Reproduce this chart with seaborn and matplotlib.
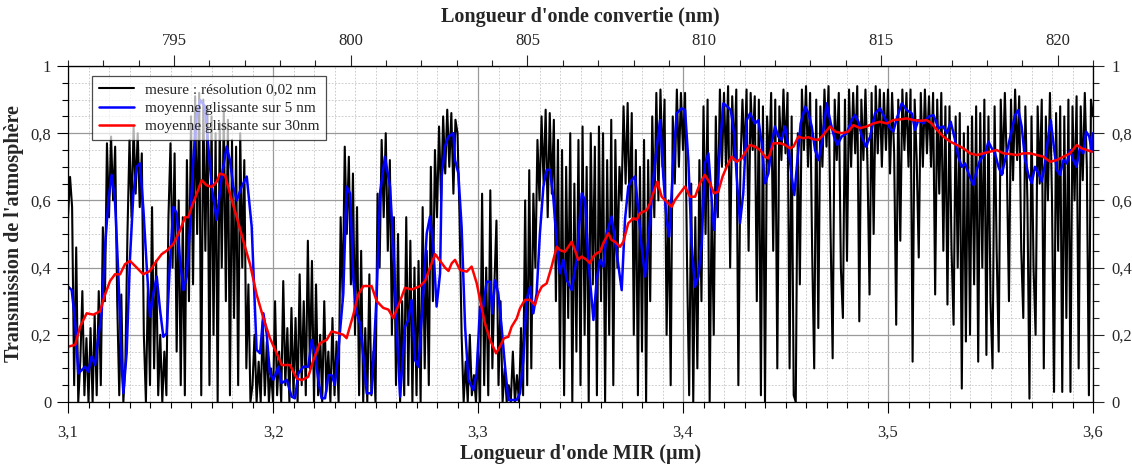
import numpy as np
import pandas as pd
import matplotlib
matplotlib.use("Agg")
import matplotlib.pyplot as plt
from matplotlib.ticker import MultipleLocator, FuncFormatter
import seaborn as sns

# mesure brute (transmission), un point tous les 0,001 um de 3,100 a 3,600 um
mesure_debut = 3.100
mesure_fin = 3.600
mesure_T = [
    0.55, 0.67, 0.58, 0.05, 0.46, 0.00, 0.12, 0.33, 0.02, 0.19,
    0.00, 0.22, 0.00, 0.26, 0.02, 0.33, 0.05, 0.52, 0.30, 0.77,
    0.55, 0.79, 0.60, 0.76, 0.30, 0.02, 0.32, 0.00, 0.12, 0.50,
    0.78, 0.55, 0.82, 0.62, 0.80, 0.58, 0.74, 0.20, 0.00, 0.35,
    0.05, 0.58, 0.10, 0.42, 0.02, 0.20, 0.00, 0.15, 0.02, 0.55,
    0.77, 0.40, 0.74, 0.15, 0.60, 0.05, 0.55, 0.02, 0.72, 0.30,
    0.85, 0.35, 0.91, 0.50, 0.92, 0.02, 0.90, 0.45, 0.88, 0.05,
    0.85, 0.20, 0.80, 0.00, 0.83, 0.40, 0.87, 0.30, 0.84, 0.02,
    0.78, 0.25, 0.76, 0.05, 0.80, 0.40, 0.72, 0.10, 0.35, 0.00,
    0.05, 0.20, 0.00, 0.12, 0.00, 0.24, 0.02, 0.18, 0.00, 0.10,
    0.00, 0.30, 0.02, 0.15, 0.00, 0.36, 0.05, 0.22, 0.00, 0.28,
    0.02, 0.25, 0.00, 0.38, 0.05, 0.30, 0.02, 0.48, 0.10, 0.42,
    0.00, 0.35, 0.02, 0.20, 0.00, 0.30, 0.03, 0.15, 0.00, 0.25,
    0.02, 0.18, 0.00, 0.55, 0.30, 0.76, 0.50, 0.73, 0.35, 0.68,
    0.20, 0.58, 0.02, 0.45, 0.00, 0.22, 0.00, 0.38, 0.02, 0.15,
    0.00, 0.62, 0.40, 0.78, 0.55, 0.80, 0.45, 0.72, 0.20, 0.55,
    0.05, 0.50, 0.00, 0.30, 0.02, 0.55, 0.05, 0.48, 0.00, 0.40,
    0.02, 0.42, 0.00, 0.58, 0.10, 0.45, 0.05, 0.70, 0.30, 0.75,
    0.55, 0.82, 0.60, 0.85, 0.68, 0.87, 0.70, 0.86, 0.62, 0.84,
    0.80, 0.55, 0.20, 0.00, 0.12, 0.00, 0.20, 0.02, 0.08, 0.00,
    0.15, 0.00, 0.62, 0.05, 0.40, 0.02, 0.63, 0.10, 0.35, 0.54,
    0.05, 0.30, 0.00, 0.10, 0.00, 0.05, 0.00, 0.15, 0.00, 0.08,
    0.00, 0.22, 0.02, 0.60, 0.05, 0.69, 0.10, 0.62, 0.40, 0.78,
    0.60, 0.85, 0.65, 0.87, 0.55, 0.86, 0.62, 0.84, 0.30, 0.78,
    0.10, 0.75, 0.02, 0.70, 0.25, 0.80, 0.00, 0.65, 0.15, 0.78,
    0.05, 0.82, 0.20, 0.70, 0.00, 0.80, 0.35, 0.76, 0.02, 0.82,
    0.30, 0.80, 0.00, 0.72, 0.20, 0.84, 0.05, 0.78, 0.40, 0.70,
    0.60, 0.88, 0.65, 0.89, 0.55, 0.86, 0.20, 0.75, 0.02, 0.70,
    0.15, 0.78, 0.00, 0.72, 0.30, 0.85, 0.55, 0.92, 0.60, 0.93,
    0.70, 0.90, 0.20, 0.60, 0.05, 0.85, 0.65, 0.93, 0.70, 0.92,
    0.75, 0.92, 0.40, 0.02, 0.65, 0.00, 0.55, 0.10, 0.72, 0.30,
    0.88, 0.50, 0.90, 0.00, 0.60, 0.20, 0.85, 0.55, 0.93, 0.70,
    0.92, 0.70, 0.94, 0.40, 0.91, 0.72, 0.93, 0.05, 0.70, 0.90,
    0.72, 0.93, 0.45, 0.92, 0.75, 0.91, 0.30, 0.90, 0.02, 0.88,
    0.00, 0.85, 0.70, 0.92, 0.45, 0.90, 0.10, 0.88, 0.72, 0.93,
    0.74, 0.92, 0.10, 0.85, 0.02, 0.00, 0.80, 0.35, 0.93, 0.75,
    0.94, 0.70, 0.92, 0.45, 0.10, 0.90, 0.22, 0.88, 0.70, 0.93,
    0.76, 0.94, 0.50, 0.13, 0.90, 0.72, 0.92, 0.40, 0.25, 0.90,
    0.42, 0.93, 0.70, 0.92, 0.74, 0.94, 0.24, 0.90, 0.72, 0.93,
    0.70, 0.32, 0.92, 0.50, 0.94, 0.74, 0.93, 0.70, 0.92, 0.75,
    0.93, 0.68, 0.92, 0.74, 0.23, 0.90, 0.48, 0.93, 0.75, 0.92,
    0.70, 0.93, 0.12, 0.90, 0.72, 0.43, 0.92, 0.70, 0.93, 0.74,
    0.91, 0.70, 0.92, 0.32, 0.90, 0.62, 0.92, 0.45, 0.88, 0.29,
    0.88, 0.45, 0.23, 0.85, 0.40, 0.86, 0.04, 0.80, 0.18, 0.82,
    0.20, 0.85, 0.35, 0.88, 0.12, 0.86, 0.40, 0.90, 0.14, 0.85,
    0.30, 0.10, 0.88, 0.45, 0.15, 0.90, 0.68, 0.92, 0.70, 0.30,
    0.90, 0.66, 0.93, 0.72, 0.91, 0.45, 0.25, 0.88, 0.60, 0.01,
    0.85, 0.40, 0.20, 0.88, 0.65, 0.90, 0.10, 0.85, 0.60, 0.92,
    0.60, 0.03, 0.86, 0.45, 0.88, 0.03, 0.85, 0.25, 0.90, 0.03,
    0.88, 0.60, 0.91, 0.10, 0.88, 0.66, 0.92, 0.70, 0.02, 0.90,
    0.85,
]

# moyenne glissante sur 5 nm
lambda_5nm = [
    3.1002, 3.1018, 3.1034, 3.1050, 3.1067, 3.1083, 3.1099, 3.1115, 3.1132, 3.1148,
    3.1164, 3.1181, 3.1197, 3.1213, 3.1229, 3.1246, 3.1262, 3.1270, 3.1286, 3.1302,
    3.1319, 3.1335, 3.1351, 3.1368, 3.1384, 3.1400, 3.1416, 3.1433, 3.1449, 3.1465,
    3.1481, 3.1498, 3.1514, 3.1530, 3.1546, 3.1563, 3.1579, 3.1595, 3.1611, 3.1628,
    3.1644, 3.1668, 3.1701, 3.1725, 3.1750, 3.1774, 3.1790, 3.1806, 3.1823, 3.1847,
    3.1872, 3.1896, 3.1920, 3.1937, 3.1953, 3.1969, 3.1985, 3.2002, 3.2026, 3.2042,
    3.2067, 3.2091, 3.2107, 3.2124, 3.2148, 3.2172, 3.2189, 3.2205, 3.2221, 3.2237,
    3.2254, 3.2270, 3.2286, 3.2302, 3.2319, 3.2343, 3.2359, 3.2376, 3.2392, 3.2408,
    3.2424, 3.2441, 3.2457, 3.2481, 3.2506, 3.2522, 3.2546, 3.2571, 3.2587, 3.2603,
    3.2620, 3.2644, 3.2660, 3.2676, 3.2693, 3.2709, 3.2733, 3.2750, 3.2766, 3.2782,
    3.2798, 3.2815, 3.2823, 3.2839, 3.2855, 3.2880, 3.2888, 3.2904, 3.2920, 3.2937,
    3.2953, 3.2977, 3.2993, 3.3010, 3.3026, 3.3042, 3.3059, 3.3070, 3.3083, 3.3099,
    3.3115, 3.3132, 3.3148, 3.3189, 3.3205, 3.3221, 3.3237, 3.3254, 3.3270, 3.3286,
    3.3302, 3.3319, 3.3335, 3.3351, 3.3367, 3.3384, 3.3400, 3.3416, 3.3433, 3.3457,
    3.3481, 3.3506, 3.3522, 3.3538, 3.3563, 3.3579, 3.3595, 3.3611, 3.3628, 3.3652,
    3.3668, 3.3701, 3.3717, 3.3733, 3.3750, 3.3766, 3.3782, 3.3798, 3.3815, 3.3831,
    3.3855, 3.3872, 3.3888, 3.3904, 3.3920, 3.3933, 3.3953, 3.3969, 3.3993, 3.4010,
    3.4026, 3.4042, 3.4058, 3.4075, 3.4091, 3.4107, 3.4124, 3.4140, 3.4151, 3.4164,
    3.4180, 3.4197, 3.4216, 3.4233, 3.4249, 3.4262, 3.4278, 3.4294, 3.4311, 3.4327,
    3.4351, 3.4368, 3.4384, 3.4400, 3.4417, 3.4433, 3.4449, 3.4465, 3.4482, 3.4498,
    3.4514, 3.4530, 3.4543, 3.4558, 3.4574, 3.4596, 3.4612, 3.4628, 3.4644, 3.4661,
    3.4677, 3.4701, 3.4721, 3.4737, 3.4753, 3.4774, 3.4799, 3.4823, 3.4839, 3.4856,
    3.4872, 3.4893, 3.4913, 3.4937, 3.4961, 3.4986, 3.5010, 3.5026, 3.5043, 3.5067,
    3.5091, 3.5116, 3.5132, 3.5148, 3.5173, 3.5197, 3.5222, 3.5246, 3.5270, 3.5287,
    3.5306, 3.5327, 3.5343, 3.5360, 3.5376, 3.5392, 3.5417, 3.5433, 3.5449, 3.5474,
    3.5490, 3.5506, 3.5522, 3.5539, 3.5555, 3.5571, 3.5596, 3.5620, 3.5636, 3.5652,
    3.5669, 3.5685, 3.5701, 3.5717, 3.5734, 3.5750, 3.5766, 3.5782, 3.5794, 3.5807,
    3.5823, 3.5839, 3.5856, 3.5872, 3.5888, 3.5904, 3.5920, 3.5937, 3.5953, 3.5966,
    3.5982, 3.5994, 3.6000,
]
T_5nm = [
    0.343, 0.333, 0.244, 0.085, 0.095, 0.105, 0.090, 0.135, 0.110, 0.194,
    0.264, 0.462, 0.601, 0.676, 0.601, 0.373, 0.105, 0.026, 0.145, 0.423,
    0.621, 0.700, 0.710, 0.571, 0.403, 0.254, 0.323, 0.373, 0.274, 0.194,
    0.204, 0.423, 0.581, 0.562, 0.423, 0.333, 0.373, 0.522, 0.720, 0.850,
    0.899, 0.880, 0.641, 0.542, 0.671, 0.760, 0.720, 0.641, 0.600, 0.641,
    0.671, 0.522, 0.155, 0.145, 0.264, 0.204, 0.085, 0.066, 0.105, 0.056,
    0.066, 0.016, 0.011, 0.085, 0.105, 0.105, 0.185, 0.145, 0.066, 0.011,
    0.011, 0.080, 0.080, 0.051, 0.155, 0.323, 0.641, 0.621, 0.363, 0.264,
    0.234, 0.135, 0.026, 0.026, 0.323, 0.621, 0.730, 0.641, 0.462, 0.224,
    0.016, 0.224, 0.244, 0.304, 0.125, 0.105, 0.323, 0.502, 0.552, 0.462,
    0.284, 0.383, 0.671, 0.760, 0.790, 0.800, 0.720, 0.681, 0.522, 0.224,
    0.066, 0.036, 0.085, 0.284, 0.284, 0.358, 0.358, 0.264, 0.363, 0.323,
    0.224, 0.105, 0.006, 0.006, 0.026, 0.125, 0.304, 0.343, 0.264, 0.323,
    0.502, 0.641, 0.691, 0.691, 0.611, 0.472, 0.383, 0.423, 0.363, 0.333,
    0.423, 0.621, 0.601, 0.423, 0.244, 0.363, 0.423, 0.403, 0.502, 0.552,
    0.482, 0.333, 0.542, 0.641, 0.661, 0.671, 0.571, 0.462, 0.373, 0.482,
    0.661, 0.760, 0.839, 0.671, 0.542, 0.492, 0.720, 0.859, 0.874, 0.869,
    0.720, 0.472, 0.343, 0.373, 0.472, 0.710, 0.740, 0.601, 0.512, 0.601,
    0.760, 0.889, 0.879, 0.869, 0.800, 0.671, 0.532, 0.621, 0.839, 0.859,
    0.829, 0.839, 0.770, 0.651, 0.681, 0.770, 0.820, 0.790, 0.780, 0.820,
    0.760, 0.671, 0.616, 0.720, 0.829, 0.879, 0.859, 0.820, 0.750, 0.720,
    0.770, 0.889, 0.829, 0.790, 0.765, 0.790, 0.800, 0.839, 0.854, 0.834,
    0.790, 0.760, 0.790, 0.859, 0.874, 0.844, 0.815, 0.805, 0.844, 0.889,
    0.869, 0.859, 0.810, 0.839, 0.829, 0.849, 0.854, 0.815, 0.820, 0.800,
    0.834, 0.780, 0.730, 0.700, 0.710, 0.681, 0.646, 0.691, 0.720, 0.740,
    0.775, 0.755, 0.740, 0.700, 0.676, 0.720, 0.790, 0.854, 0.869, 0.820,
    0.720, 0.676, 0.651, 0.700, 0.681, 0.656, 0.710, 0.790, 0.839, 0.770,
    0.691, 0.676, 0.720, 0.710, 0.750, 0.720, 0.700, 0.760, 0.740, 0.805,
    0.790, 0.745, 0.800,
]

# moyenne glissante sur 30 nm
lambda_30nm = [
    3.1002, 3.1035, 3.1059, 3.1091, 3.1124, 3.1156, 3.1181, 3.1205, 3.1229, 3.1254,
    3.1278, 3.1302, 3.1335, 3.1367, 3.1400, 3.1432, 3.1457, 3.1481, 3.1514, 3.1546,
    3.1571, 3.1587, 3.1603, 3.1628, 3.1652, 3.1676, 3.1701, 3.1725, 3.1741, 3.1766,
    3.1790, 3.1823, 3.1855, 3.1888, 3.1920, 3.1953, 3.1985, 3.2018, 3.2043, 3.2083,
    3.2116, 3.2140, 3.2172, 3.2197, 3.2229, 3.2262, 3.2286, 3.2318, 3.2343, 3.2359,
    3.2392, 3.2416, 3.2441, 3.2481, 3.2506, 3.2538, 3.2563, 3.2587, 3.2620, 3.2644,
    3.2677, 3.2718, 3.2742, 3.2766, 3.2791, 3.2815, 3.2839, 3.2856, 3.2872, 3.2888,
    3.2912, 3.2945, 3.2969, 3.2994, 3.3010, 3.3034, 3.3059, 3.3088, 3.3107, 3.3127,
    3.3148, 3.3164, 3.3189, 3.3205, 3.3229, 3.3254, 3.3278, 3.3294, 3.3311, 3.3335,
    3.3359, 3.3384, 3.3400, 3.3424, 3.3441, 3.3457, 3.3473, 3.3489, 3.3506, 3.3530,
    3.3546, 3.3563, 3.3579, 3.3595, 3.3611, 3.3636, 3.3652, 3.3668, 3.3693, 3.3709,
    3.3733, 3.3758, 3.3774, 3.3790, 3.3823, 3.3839, 3.3855, 3.3875, 3.3896, 3.3920,
    3.3945, 3.3961, 3.3985, 3.4010, 3.4034, 3.4059, 3.4083, 3.4107, 3.4132, 3.4151,
    3.4172, 3.4193, 3.4213, 3.4237, 3.4262, 3.4286, 3.4311, 3.4327, 3.4351, 3.4376,
    3.4400, 3.4417, 3.4441, 3.4474, 3.4498, 3.4522, 3.4539, 3.4563, 3.4587, 3.4612,
    3.4636, 3.4661, 3.4685, 3.4717, 3.4742, 3.4774, 3.4807, 3.4831, 3.4864, 3.4896,
    3.4929, 3.4961, 3.4994, 3.5026, 3.5059, 3.5091, 3.5124, 3.5156, 3.5189, 3.5213,
    3.5238, 3.5270, 3.5303, 3.5335, 3.5368, 3.5400, 3.5433, 3.5465, 3.5498, 3.5530,
    3.5563, 3.5596, 3.5628, 3.5660, 3.5693, 3.5726, 3.5758, 3.5791, 3.5823, 3.5856,
    3.5888, 3.5921, 3.5945, 3.5969, 3.5994,
]
T_30nm = [
    0.165, 0.170, 0.224, 0.264, 0.260, 0.270, 0.320, 0.360, 0.380, 0.380,
    0.410, 0.420, 0.400, 0.380, 0.390, 0.420, 0.440, 0.450, 0.470, 0.510,
    0.550, 0.550, 0.580, 0.620, 0.660, 0.645, 0.640, 0.655, 0.680, 0.675,
    0.620, 0.550, 0.480, 0.410, 0.320, 0.250, 0.190, 0.145, 0.110, 0.110,
    0.070, 0.065, 0.075, 0.125, 0.175, 0.185, 0.210, 0.205, 0.200, 0.190,
    0.260, 0.320, 0.345, 0.345, 0.300, 0.280, 0.275, 0.250, 0.300, 0.340,
    0.335, 0.345, 0.360, 0.400, 0.440, 0.420, 0.400, 0.390, 0.413, 0.423,
    0.393, 0.388, 0.403, 0.353, 0.304, 0.234, 0.185, 0.145, 0.165, 0.190,
    0.194, 0.224, 0.249, 0.279, 0.304, 0.304, 0.289, 0.323, 0.343, 0.353,
    0.403, 0.462, 0.452, 0.447, 0.462, 0.477, 0.452, 0.423, 0.433, 0.423,
    0.413, 0.433, 0.443, 0.447, 0.472, 0.502, 0.482, 0.477, 0.462, 0.477,
    0.532, 0.547, 0.542, 0.562, 0.571, 0.591, 0.621, 0.656, 0.611, 0.596,
    0.581, 0.601, 0.621, 0.641, 0.611, 0.611, 0.651, 0.676, 0.651, 0.621,
    0.626, 0.671, 0.700, 0.730, 0.715, 0.725, 0.750, 0.765, 0.760, 0.750,
    0.730, 0.725, 0.770, 0.770, 0.765, 0.755, 0.760, 0.790, 0.785, 0.788,
    0.782, 0.780, 0.795, 0.820, 0.805, 0.800, 0.805, 0.824, 0.815, 0.820,
    0.829, 0.834, 0.829, 0.839, 0.841, 0.844, 0.839, 0.837, 0.839, 0.829,
    0.810, 0.790, 0.775, 0.765, 0.755, 0.740, 0.735, 0.740, 0.745, 0.750,
    0.740, 0.738, 0.735, 0.740, 0.740, 0.735, 0.730, 0.715, 0.720, 0.730,
    0.740, 0.765, 0.755, 0.750, 0.745,
]

legende = ["mesure : résolution 0,02 nm",
           "moyenne glissante sur 5 nm",
           "moyenne glissante sur 30nm"]

lambda_mesure = np.linspace(mesure_debut, mesure_fin, len(mesure_T))
df_mes = pd.DataFrame({"lambda": lambda_mesure, "T": mesure_T})
df_5 = pd.DataFrame({"lambda": lambda_5nm, "T": T_5nm})
df_30 = pd.DataFrame({"lambda": lambda_30nm, "T": T_30nm})

sns.set_style("ticks")
plt.rcParams['font.family'] = ['Liberation Serif', 'DejaVu Serif']


def virgule(v, pos):
    s = "%g" % round(v, 3)
    return s.replace(".", ",")


fig = plt.figure(figsize=(11.32, 4.67), dpi=100)
ax = fig.add_axes([68 / 1132, 65 / 467, 1025 / 1132, 336 / 467])

sns.lineplot(data=df_mes, x="lambda", y="T", ax=ax, color="black", lw=1.5,
             estimator=None, sort=False, label=legende[0])
sns.lineplot(data=df_5, x="lambda", y="T", ax=ax, color="#0000ff", lw=1.8,
             estimator=None, sort=False, label=legende[1])
sns.lineplot(data=df_30, x="lambda", y="T", ax=ax, color="#ff0000", lw=1.8,
             estimator=None, sort=False, label=legende[2])

ax.set_xlim(3.1, 3.6)
ax.set_ylim(0, 1)

# grilles
ax.xaxis.set_major_locator(MultipleLocator(0.1))
ax.xaxis.set_minor_locator(MultipleLocator(0.01))
ax.yaxis.set_major_locator(MultipleLocator(0.2))
ax.yaxis.set_minor_locator(MultipleLocator(0.05))
ax.xaxis.set_major_formatter(FuncFormatter(virgule))
ax.yaxis.set_major_formatter(FuncFormatter(virgule))
ax.set_axisbelow(True)
ax.grid(which="major", color="#9a9a9a", lw=0.9, ls="-")
ax.grid(which="minor", color="#c4c4c4", lw=0.6, ls=(0, (2, 2)))

ax.tick_params(which="major", direction="out", length=8, width=0.8,
               labelsize=12, color="black")
ax.tick_params(axis="x", which="major", pad=8)
ax.tick_params(axis="y", which="major", pad=4)
ax.tick_params(which="minor", direction="out", length=4, width=0.8, color="black")
for sp in ax.spines.values():
    sp.set_color("black")
    sp.set_linewidth(0.9)

ax.set_xlabel("Longueur d'onde MIR (µm)", fontsize=14.5, fontweight="bold")
ax.set_ylabel("Transmission de l'atmosphère", fontsize=14.5, fontweight="bold")
ax.xaxis.set_label_coords(0.5, -0.125)
ax.yaxis.set_label_coords(-0.043, 0.5)

# axe du haut : longueur d'onde convertie
haut = ax.secondary_xaxis("top", functions=(lambda l: 792 + (l - 3.1) * 58,
                                            lambda n: 3.1 + (n - 792) / 58))
haut.xaxis.set_major_locator(MultipleLocator(5))
haut.xaxis.set_minor_locator(MultipleLocator(1))
haut.tick_params(which="major", direction="out", length=8, width=0.8,
                 labelsize=12, pad=4)
haut.tick_params(which="minor", direction="out", length=4, width=0.8)
haut.set_xlabel("Longueur d'onde convertie (nm)", fontsize=14.5, fontweight="bold",
                labelpad=8)

# axe de droite
droite = ax.secondary_yaxis("right")
droite.yaxis.set_major_locator(MultipleLocator(0.2))
droite.yaxis.set_minor_locator(MultipleLocator(0.05))
droite.yaxis.set_major_formatter(FuncFormatter(virgule))
droite.tick_params(which="major", direction="out", length=8, width=0.8,
                   labelsize=12, pad=5)
droite.tick_params(which="minor", direction="out", length=4, width=0.8)

leg = ax.legend(loc="upper left", bbox_to_anchor=(0.0234, 0.970),
                borderaxespad=0, frameon=True, fancybox=False, framealpha=0.7,
                edgecolor="black", fontsize=11, handlelength=2.3,
                labelspacing=0.3, borderpad=0.45, handletextpad=0.7)
leg.get_frame().set_linewidth(0.9)

fig.savefig("out.png", dpi=100)
